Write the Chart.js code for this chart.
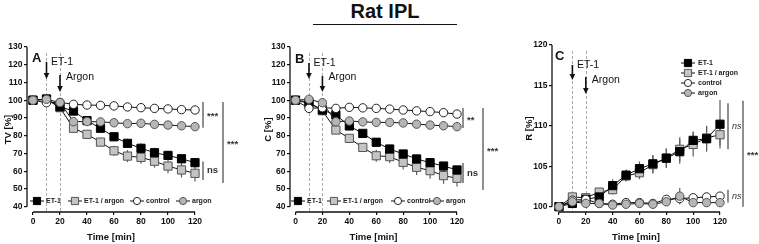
<!DOCTYPE html>
<html><head><meta charset="utf-8">
<script src="https://cdn.jsdelivr.net/npm/chart.js@4.4.0/dist/chart.umd.min.js"></script>
<style>
html,body{margin:0;padding:0;background:#fff;}
#wrap{position:relative;width:759px;height:244px;overflow:hidden;background:#fff;}
canvas{position:absolute;left:0;top:0;}
#title{position:absolute;left:313px;width:144px;top:0;height:20px;line-height:20px;text-align:center;font:bold 20px 'Liberation Sans',Arial,sans-serif;color:#111;}
#tline{position:absolute;left:313px;width:144px;top:24px;height:0;border-top:1.5px solid #111;}
</style></head>
<body><div id="wrap">
<div id="title">Rat IPL</div><div id="tline"></div>
<canvas id="cA" width="759" height="244"></canvas>
<canvas id="cB" width="759" height="244"></canvas>
<canvas id="cC" width="759" height="244"></canvas>
</div>
<script>
// ---------- data ----------
const times = [0,10,20,30,40,50,60,70,80,90,100,110,120];
const seriesNames = ['ET-1','ET-1 / argon','control','argon'];
const xTickValues = [0,20,40,60,80,100,120];
const tvTickValues = [40,50,60,70,80,90,100,110,120,130];
const cTickValues = [40,50,60,70,80,90,100,110,120,130];
const rTickValues = [100,105,110,115,120];

const tvET1      = [100,100.7,96.3,93.9,88.5,84.2,79.4,75.7,72.9,70.4,68.9,67.0,64.8];
const tvET1Argon = [100,100.5,95.8,84.2,80.8,76.4,71.5,68.5,67.8,65.6,62.9,60.7,58.8];
const tvControl  = [100,98.6,98.8,97.7,97.3,97.1,96.8,96.2,95.8,95.4,95.1,94.7,94.5];
const tvArgon    = [100,100.5,98.7,87.9,88.0,87.8,87.3,86.8,87.0,86.4,86.0,85.6,85.1];
const tvET1Err      = [0,0.4,0.6,0.8,1.2,1.6,2.2,2.6,2.8,2.8,2.6,2.4,2.6];
const tvET1ArgonErr = [0,0.4,0.6,1.0,1.4,2.0,2.8,3.4,3.6,3.6,4.0,4.2,4.6];

const cET1      = [100,98.3,94.5,91.7,85.5,81.3,76.3,72.5,69.7,66.9,64.8,62.9,60.7];
const cET1Argon = [100,99.0,94.1,83.2,78.5,73.4,68.7,68.2,65.0,62.2,60.3,57.5,56.0];
const cControl  = [100,95.4,95.8,95.4,96.0,95.7,95.4,95.0,94.5,94.0,93.6,93.0,92.2];
const cArgon    = [100,100.5,98.6,87.9,88.3,87.8,87.5,87.5,87.2,86.5,86.0,85.6,85.1];
const cET1Err      = [0,0.5,0.6,1.0,1.2,1.5,1.8,2.0,2.0,2.0,2.0,2.0,2.2];
const cET1ArgonErr = [0,0.5,0.6,1.0,1.5,2.0,3.4,3.6,4.0,4.4,4.6,4.6,4.6];

const rET1      = [100,100.4,100.9,101.2,102.6,103.9,104.7,105.3,106.0,106.8,108.2,108.4,110.2];
const rET1Argon = [100,101.2,101.1,101.8,102.1,103.8,104.2,105.2,106.0,107.1,107.7,108.5,108.9];
const rControl  = [100,100.8,100.9,100.4,100.3,100.5,100.5,100.4,100.9,101.0,101.1,101.2,101.3];
const rArgon    = [100,100.6,100.4,100.4,100.2,100.3,100.4,100.3,100.6,101.3,100.5,100.5,100.5];
const rET1Err      = [0,0.2,0.3,0.4,0.8,0.7,0.9,1.1,1.2,1.5,1.1,1.6,3.0];
const rET1ArgonErr = [0,0.2,0.3,0.4,0.6,0.7,0.8,1.1,1.2,1.5,1.5,1.5,1.3];
const rArgonErr    = [0,0.2,0.2,0.2,0.2,0.2,0.2,0.2,0.2,1.0,0.2,0.2,0.2];

// ---------- styles ----------
const FONT = "'Liberation Sans', Arial, sans-serif";
Chart.defaults.font.family = FONT;
Chart.defaults.color = '#111';
const seriesStyles = [
  {pointStyle:'rect',   pointRadius:5.8, pointBackgroundColor:'#000',    pointBorderColor:'#000', order:2},
  {pointStyle:'rect',   pointRadius:5.8, pointBackgroundColor:'#c4c4c4', pointBorderColor:'#555', order:3},
  {pointStyle:'circle', pointRadius:4.2, pointBackgroundColor:'#fff',    pointBorderColor:'#222', order:1},
  {pointStyle:'circle', pointRadius:4.2, pointBackgroundColor:'#b6b6b6', pointBorderColor:'#555', order:0}
];

function makeDatasets(vals, errs){
  return vals.map((v,i)=>Object.assign({
    label: seriesNames[i],
    data: times.map((t,j)=>({x:t, y:v[j]})),
    errors: errs[i],
    borderColor:'#111', borderWidth:1, pointBorderWidth:1, fill:false, tension:0, clip:false
  }, seriesStyles[i]));
}

// ---------- plugins ----------
const prismAxes = {
  id:'prismAxes',
  beforeDatasetsDraw(chart){
    const {ctx, chartArea:ca, scales:{x,y}} = chart;
    ctx.save();
    ctx.strokeStyle='#aaa'; ctx.lineWidth=1; ctx.setLineDash([3,2]);
    [10,20].forEach(v=>{
      const px = Math.round(x.getPixelForValue(v))+0.5;
      ctx.beginPath(); ctx.moveTo(px, ca.top+6); ctx.lineTo(px, ca.bottom); ctx.stroke();
    });
    ctx.setLineDash([]);
    ctx.strokeStyle='#5e5e5e'; ctx.lineWidth=1.2;
    chart.data.datasets.forEach(ds=>{
      if(!ds.errors) return;
      ds.data.forEach((p,j)=>{
        const e = ds.errors[j]; if(!e) return;
        const px = x.getPixelForValue(p.x);
        ctx.beginPath(); ctx.moveTo(px, y.getPixelForValue(p.y-e)); ctx.lineTo(px, y.getPixelForValue(p.y+e)); ctx.stroke();
      });
    });
    ctx.strokeStyle='#111'; ctx.lineWidth=1.3;
    const yt=y.ticks, xt=x.ticks;
    ctx.beginPath();
    ctx.moveTo(ca.left, y.getPixelForValue(yt[0].value)); ctx.lineTo(ca.left, y.getPixelForValue(yt[yt.length-1].value));
    ctx.moveTo(x.getPixelForValue(xt[0].value), ca.bottom); ctx.lineTo(x.getPixelForValue(xt[xt.length-1].value), ca.bottom);
    ctx.stroke();
    ctx.restore();
  }
};

const annot = {
  id:'annot',
  afterDatasetsDraw(chart, args, o){
    const {ctx, chartArea:ca, scales:{x,y}} = chart;
    ctx.save();
    ctx.fillStyle='#111'; ctx.font='bold 13px '+FONT; ctx.textBaseline='middle'; ctx.textAlign='left';
    ctx.fillText(o.letter, ca.left+o.letterDx, o.letterY);
    o.arrows.forEach(a=>{
      const px = x.getPixelForValue(a.x);
      ctx.strokeStyle='#111'; ctx.fillStyle='#111'; ctx.lineWidth=1.6;
      ctx.beginPath(); ctx.moveTo(px, a.top); ctx.lineTo(px, a.tip-5); ctx.stroke();
      ctx.beginPath(); ctx.moveTo(px-2.8, a.tip-6); ctx.lineTo(px+2.8, a.tip-6); ctx.lineTo(px, a.tip); ctx.closePath(); ctx.fill();
      ctx.font='10.5px '+FONT; ctx.textBaseline='middle';
      ctx.fillText(a.label, px+a.dx, a.ty);
    });
    const xr = x.getPixelForValue(x.max);
    o.brackets.forEach(b=>{
      const bx = xr + b.dx;
      const y0 = y.getPixelForValue(b.from), y1 = y.getPixelForValue(b.to);
      ctx.strokeStyle='#6a6a6a'; ctx.lineWidth=1.5;
      ctx.beginPath(); ctx.moveTo(bx, y0); ctx.lineTo(bx, y1); ctx.stroke();
      ctx.fillStyle='#333';
      ctx.font=(b.italic?'italic 9px ':'bold 9.5px ')+FONT;
      ctx.textBaseline='middle';
      ctx.fillText(b.text, bx+4, (y0+y1)/2 + (b.text.startsWith('*')?2:0));
    });
    ctx.restore();
  }
};

const prismLegend = {
  id:'prismLegend',
  afterDraw(chart, args, o){
    const {ctx} = chart;
    ctx.save();
    chart.data.datasets.forEach((ds,i)=>{
      const mx = o.vertical ? o.x : o.xs[i];
      const my = o.vertical ? o.y + i*o.rowH : o.y;
      ctx.strokeStyle='#111'; ctx.lineWidth=1;
      ctx.beginPath(); ctx.moveTo(mx-7, my); ctx.lineTo(mx+7, my); ctx.stroke();
      ctx.fillStyle = ds.pointBackgroundColor; ctx.strokeStyle = ds.pointBorderColor;
      ctx.beginPath();
      if(ds.pointStyle==='rect'){ const h=3.6; ctx.rect(mx-h,my-h,2*h,2*h); }
      else { ctx.arc(mx,my,3.6,0,Math.PI*2); }
      ctx.fill(); ctx.stroke();
      ctx.fillStyle='#222'; ctx.font='bold 7px '+FONT; ctx.textBaseline='middle'; ctx.textAlign='left';
      ctx.fillText(ds.label, mx+o.textDx, my+0.5);
    });
    ctx.restore();
  }
};

function makePanel(id, p){
  const tickFont = {size:8.5, weight:'bold', family:FONT};
  const titleFont = {size:9.5, weight:'bold', family:FONT};
  return new Chart(document.getElementById(id), {
    type:'line',
    data:{datasets: makeDatasets(p.vals, p.errs)},
    options:{
      responsive:false, animation:false, devicePixelRatio:1,
      layout:{padding:{left:p.padL, right:759-p.right, top:p.top, bottom:0}},
      plugins:{legend:{display:false}, tooltip:{enabled:false}, annot:p.annot, prismLegend:p.legend},
      scales:{
        x:{type:'linear', min:p.xMin, max:120,
          afterBuildTicks:s=>{s.ticks = xTickValues.map(v=>({value:v}));},
          afterFit:s=>{s.height = 244-212; s.paddingLeft=0; s.paddingRight=0;},
          border:{display:false},
          grid:{drawOnChartArea:false, drawTicks:true, tickLength:3, color:'#111', lineWidth:1.2},
          ticks:{font:tickFont, color:'#111', padding:2, maxRotation:0, autoSkip:false},
          title:{display:true, text:'Time [min]', font:titleFont, color:'#111', padding:{top:0,bottom:1}}
        },
        y:{type:'linear', min:p.yMin, max:p.yMax,
          afterBuildTicks:s=>{s.ticks = p.yTicks.map(v=>({value:v}));},
          afterFit:s=>{s.width = p.yW; s.paddingTop=0; s.paddingBottom=0;},
          border:{display:false},
          grid:{drawOnChartArea:false, drawTicks:true, tickLength:3, color:'#111', lineWidth:1.2},
          ticks:{font:tickFont, color:'#111', padding:1.5, autoSkip:false},
          title:{display:true, text:p.yTitle, font:titleFont, color:'#111', padding:{top:0,bottom:0}}
        }
      }
    },
    plugins:[prismAxes, annot, prismLegend]
  });
}

makePanel('cA', {
  vals:[tvET1, tvET1Argon, tvControl, tvArgon], errs:[tvET1Err, tvET1ArgonErr, null, null],
  padL:3, yW:24, right:195, top:47, xMin:-4.44, yMin:37.0, yMax:130, yTicks:tvTickValues, yTitle:'TV [%]',
  annot:{letter:'A', letterDx:5, letterY:58,
    arrows:[{x:10, top:62, tip:79, label:'ET-1', dx:4.5, ty:62},{x:20, top:75, tip:92, label:'Argon', dx:6, ty:77}],
    brackets:[{dx:8, from:99, to:84.5, text:'***'},{dx:8, from:65.5, to:55, text:'ns'},{dx:28, from:99, to:53.3, text:'***'}]},
  legend:{vertical:false, xs:[37,75,137,183], y:201, textDx:9}
});
makePanel('cB', {
  vals:[cET1, cET1Argon, cControl, cArgon], errs:[cET1Err, cET1ArgonErr, null, null],
  padL:263, yW:27, right:457, top:47, xMin:-4.09, yMin:37.0, yMax:130, yTicks:cTickValues, yTitle:'C [%]',
  annot:{letter:'B', letterDx:5, letterY:59,
    arrows:[{x:10, top:63, tip:79, label:'ET-1', dx:4.5, ty:63},{x:20, top:76, tip:92, label:'Argon', dx:6, ty:77}],
    brackets:[{dx:6, from:95.6, to:84.3, text:'**'},{dx:6, from:64.6, to:53.3, text:'ns'},{dx:26, from:95.6, to:49.4, text:'***'}]},
  legend:{vertical:false, xs:[298,334,398,437], y:201, textDx:9}
});
makePanel('cC', {
  vals:[rET1, rET1Argon, rControl, rArgon], errs:[rET1Err, rET1ArgonErr, null, rArgonErr],
  padL:524, yW:28, right:720, top:45, xMin:-5.2, yMin:99.34, yMax:120, yTicks:rTickValues, yTitle:'R [%]',
  annot:{letter:'C', letterDx:3, letterY:56,
    arrows:[{x:10, top:65, tip:80, label:'ET-1', dx:4.5, ty:65},{x:20, top:77, tip:94, label:'Argon', dx:6, ty:80}],
    brackets:[{dx:8, from:112.8, to:107.1, text:'ns', italic:true},{dx:8, from:102.1, to:100.5, text:'ns', italic:true},{dx:23, from:113.1, to:100, text:'***'}]},
  legend:{vertical:true, x:688, y:63, rowH:10, textDx:10}
});
</script>
</body></html>
